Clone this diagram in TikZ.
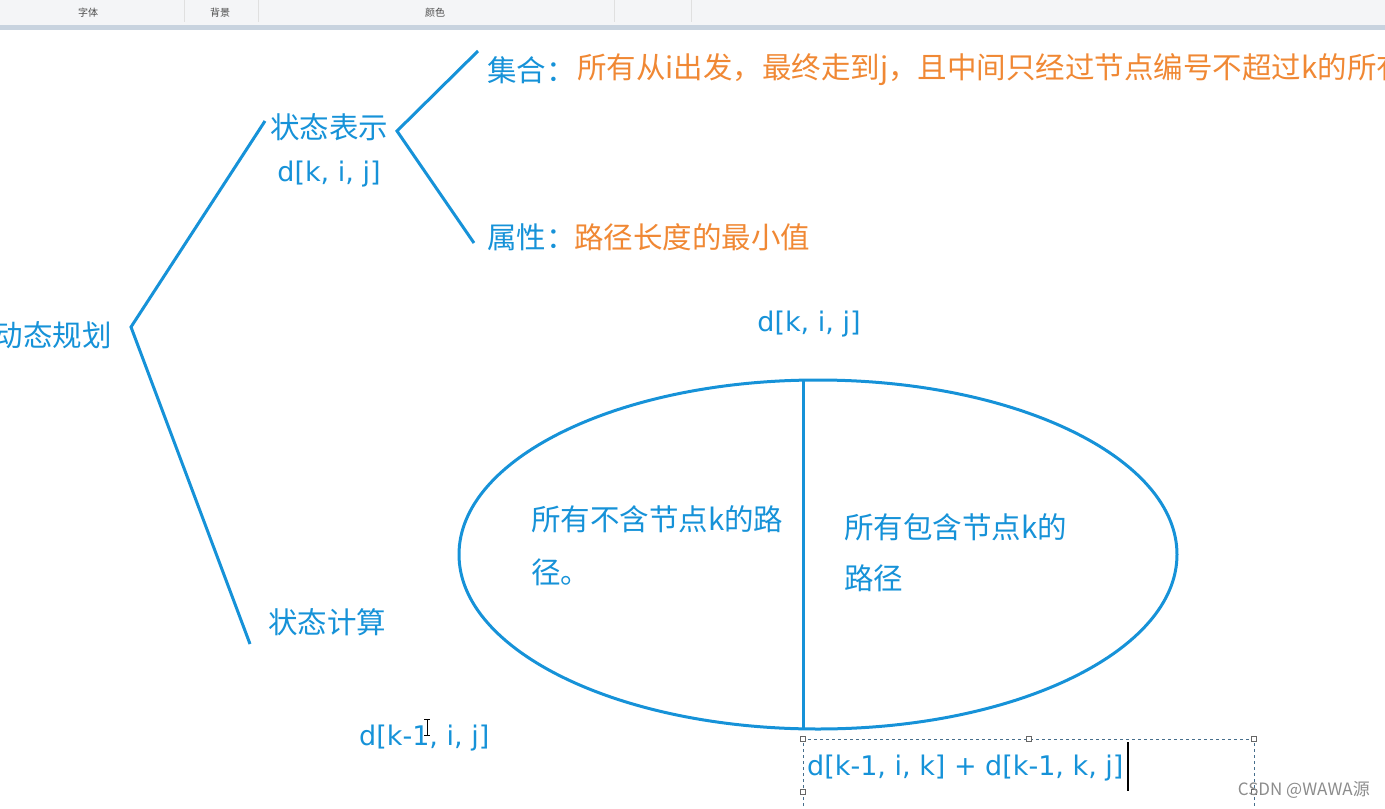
\documentclass[tikz,border=0pt]{standalone}
\usepackage{fontspec}
\setmainfont{Noto Sans CJK SC}
\newfontfamily\latinfont{DejaVu Sans}
\usetikzlibrary{positioning,shapes.geometric}
\definecolor{cblue}{RGB}{22,146,216}
\definecolor{corange}{RGB}{240,136,52}
\definecolor{cbar}{RGB}{244,245,247}
\definecolor{cedge}{RGB}{200,211,223}
\definecolor{csel}{RGB}{70,110,140}

\begin{document}
\begin{tikzpicture}[x=1pt,y=-1pt,
  txt/.style={inner sep=0pt,anchor=west,text=cblue,font=\fontsize{29.5}{34}\selectfont},
  otxt/.style={txt,text=corange},
  ftxt/.style={txt,font=\fontsize{27}{32}\selectfont\latinfont},
  brk/.style={draw=cblue,line width=3pt},
  tool/.style={inner sep=0pt,text=black!70,font=\fontsize{10}{12}\selectfont},
  handle/.style={draw=black!60,fill=white,line width=0.8pt,minimum size=5.5pt,inner sep=0pt}]
\useasboundingbox (0,0) rectangle (1385,809);
\clip (0,0) rectangle (1385,809);

% --- editor toolbar strip ---
\fill[cbar] (0,0) rectangle (1385,25);
\fill[cedge] (0,25) rectangle (1385,30);
\foreach \x in {184,258,614,691}{\draw[black!12,line width=0.8pt] (\x,0)--(\x,22);}
\node[tool] (tfont) at (88,13) {字体};
\node[tool] (tback) at (220,13) {背景};
\node[tool] (tcolor) at (435,13) {颜色};

% --- tree ---
\node[txt,anchor=east] (dp) at (112,335) {动态规划};
\node[txt,anchor=center] (rep) at (329,127) {状态表示};
\node[ftxt,anchor=center] (repd) at (329,174) {d[k, i, j]};
\node[txt,anchor=center] (calc) at (327,622) {状态计算};
\node[txt] (setl) at (487,70) {集合：};
\node[otxt] (setv) at (577,70) {所有从i出发，最终走到j，且中间只经过节点编号不超过k的所有};
\node[txt] (attl) at (487,237) {属性：};
\node[otxt] (attv) at (574,237) {路径长度的最小值};

\coordinate (apex1) at (131,327);
\coordinate (top1) at (265,121);
\coordinate (bot1) at (250,644);
\coordinate (apex2) at (397,131);
\coordinate (top2) at (478,51);
\coordinate (bot2) at (474,243);
\draw[brk] (top1)--(apex1)--(bot1);
\draw[brk] (top2)--(apex2)--(bot2);

% --- set split ---
\node[ftxt,anchor=center] (whole) at (809,324) {d[k, i, j]};
\node[ellipse,draw=cblue,line width=3pt,inner sep=0pt,
  minimum width=718pt,minimum height=349pt] (set) at (818,554.5) {};
\coordinate (divtop) at (803,380.3);
\coordinate (divbot) at (803,728.7);
\draw[brk] (divtop)--(divbot);
\node[txt] (nok1) at (531,519) {所有不含节点k的路};
\node[txt] (nok2) at (531,572) {径。};
\node[txt] (wk1) at (844,527) {所有包含节点k的};
\node[txt] (wk2) at (844,578) {路径};

% --- formulas ---
\node[ftxt] (fleft) at (359,738) {d[k-1, i, j]};
\node[ftxt] (fright) at (807,768) {d[k-1, i, k] + d[k-1, k, j]};

% --- selection box, cursors, watermark ---
\draw[csel,dashed,line width=0.8pt] (803,812)--(803,739)--(1254,739)--(1254,812);
\foreach \p in {(803,739),(1029,739),(1254,739),(803,792),(1254,792)}{\node[handle] at \p {};}
\draw[black,line width=1.5pt] (1128,742)--(1128,791);
\draw[black,line width=0.9pt] (427,719)--(427,735) (424,719)--(430,719) (424,735)--(430,735);
\node[inner sep=0pt,anchor=east,text=black!45,font=\fontsize{17}{20}\selectfont] (wm) at (1370,790) {CSDN @WAWA源};
\end{tikzpicture}
\end{document}
